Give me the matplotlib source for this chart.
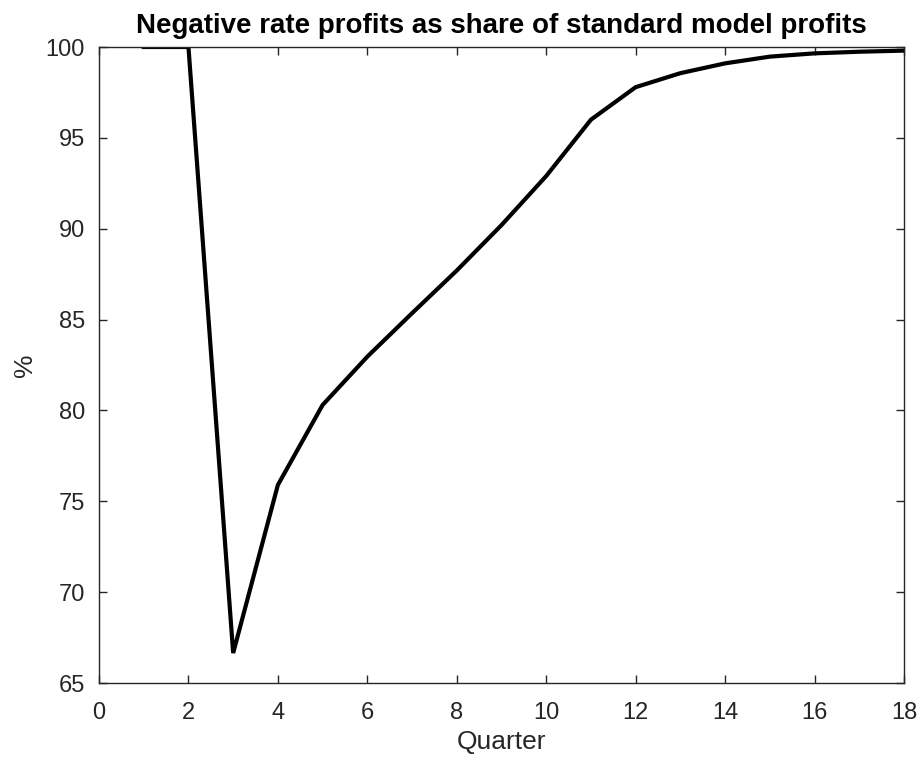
import matplotlib
matplotlib.use("Agg")
import matplotlib.pyplot as plt

# 四半期と比率(%)
quarters = [1, 2, 3, 4, 5, 6, 7, 8, 9, 10, 11, 12, 13, 14, 15, 16, 17, 18]
share_pct = [100.0, 100.0, 66.65, 75.9, 80.3, 82.96, 85.35, 87.7, 90.2, 92.9,
             96.0, 97.79, 98.56, 99.1, 99.47, 99.65, 99.74, 99.8]

x_ticks = list(range(0, 19, 2))
y_ticks = [65, 70, 75, 80, 85, 90, 95, 100]

AX_COLOR = "#262626"

plt.rcParams["font.family"] = ["Liberation Sans", "DejaVu Sans"]

fig = plt.figure(figsize=(9.2, 7.59), dpi=100)
ax = fig.add_axes([99 / 920, 1 - 683 / 759, 805 / 920, 636 / 759])

ax.plot(quarters, share_pct, color="k", lw=3.0, solid_joinstyle="miter")

ax.set_xlim(0, 18)
ax.set_ylim(65, 100)
ax.set_xticks(x_ticks)
ax.set_yticks(y_ticks)
ax.tick_params(direction="in", length=6, width=1, colors=AX_COLOR,
               labelsize=17, top=True, right=True, pad=10)
ax.tick_params(axis="x", pad=14)
for sp in ax.spines.values():
    sp.set_color(AX_COLOR)
    sp.set_linewidth(1)

ax.set_title("Negative rate profits as share of standard model profits",
             fontsize=20, fontweight="bold", color="k", pad=10)
ax.set_xlabel("Quarter", fontsize=19, color=AX_COLOR, labelpad=4)
ax.set_ylabel("%", fontsize=19, color=AX_COLOR, labelpad=6)

fig.savefig("out.png", dpi=100)
